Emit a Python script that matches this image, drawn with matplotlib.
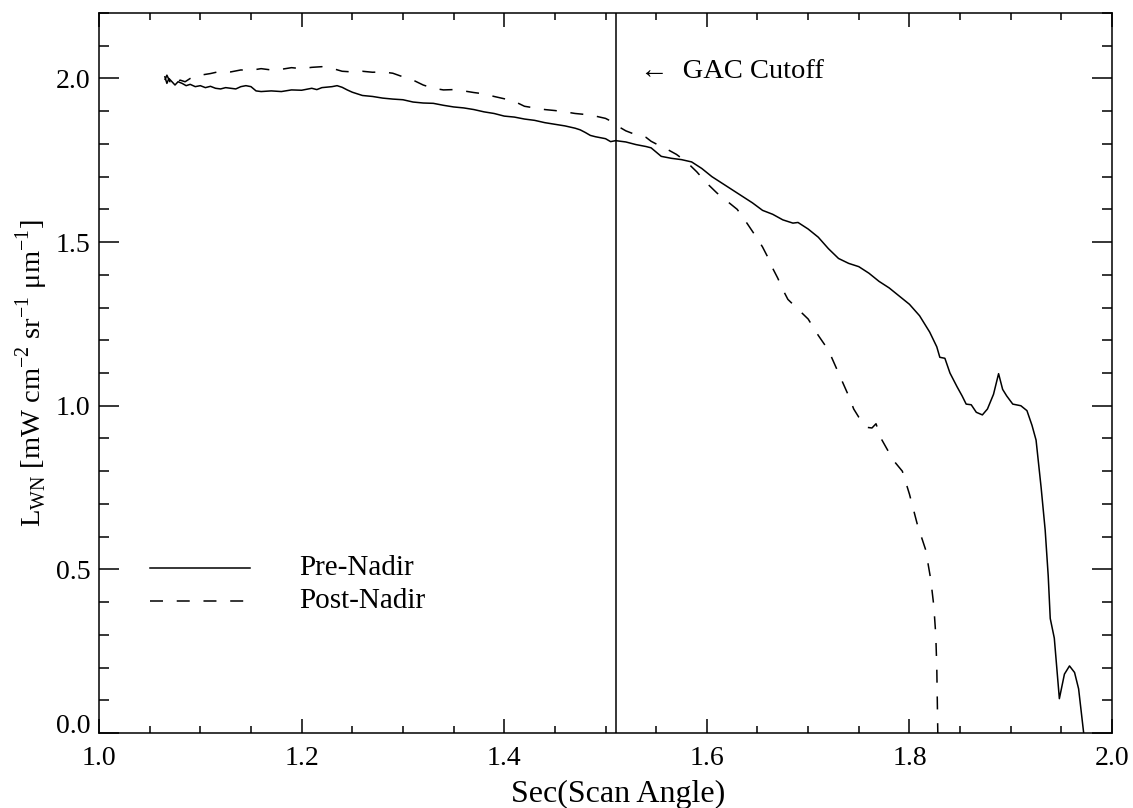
import numpy as np
import matplotlib
matplotlib.use("Agg")
from matplotlib import pyplot as plt

plt.rcParams["font.family"] = ["Liberation Serif", "DejaVu Serif"]
plt.rcParams["mathtext.fontset"] = "custom"
plt.rcParams["mathtext.rm"] = "Liberation Serif"

# ---------------- data ----------------
pre_x = [1.065, 1.067, 1.069, 1.072, 1.075, 1.078, 1.082, 1.086, 1.09, 1.095,
         1.10, 1.105, 1.11, 1.115, 1.12, 1.125, 1.13, 1.135, 1.14, 1.145,
         1.15, 1.155, 1.16, 1.17, 1.18, 1.19, 1.20, 1.21, 1.215, 1.22,
         1.23, 1.235, 1.24, 1.245, 1.25, 1.26, 1.27, 1.28, 1.29, 1.30,
         1.31, 1.32, 1.33, 1.34, 1.35, 1.36, 1.37, 1.38, 1.39, 1.40,
         1.41, 1.42, 1.43, 1.44, 1.45, 1.46, 1.47, 1.475, 1.48, 1.485,
         1.49, 1.50, 1.505, 1.51, 1.52, 1.53, 1.54, 1.545, 1.55, 1.555,
         1.565, 1.575, 1.585, 1.595, 1.605, 1.615, 1.625, 1.635, 1.645, 1.655,
         1.665, 1.675, 1.685, 1.69, 1.70, 1.71, 1.72, 1.73, 1.74, 1.75,
         1.76, 1.77, 1.78, 1.79, 1.80, 1.81, 1.82, 1.827, 1.83, 1.835,
         1.84, 1.847, 1.852, 1.856, 1.861, 1.866, 1.872, 1.877, 1.883, 1.888,
         1.892, 1.896, 1.902, 1.91, 1.916, 1.921, 1.925, 1.93, 1.934, 1.937,
         1.939, 1.943, 1.948, 1.953, 1.958, 1.963, 1.967, 1.972]
pre_y = [2.005, 1.985, 2.0, 1.99, 1.98, 1.99, 1.985, 1.978, 1.982, 1.975,
         1.978, 1.972, 1.976, 1.97, 1.968, 1.972, 1.97, 1.968, 1.975, 1.978,
         1.975, 1.962, 1.96, 1.962, 1.96, 1.965, 1.964, 1.97, 1.966, 1.972,
         1.975, 1.978, 1.973, 1.965, 1.958, 1.948, 1.945, 1.94, 1.937, 1.935,
         1.928, 1.925, 1.924, 1.918, 1.913, 1.91, 1.905, 1.898, 1.893, 1.885,
         1.882, 1.876, 1.872, 1.865, 1.86, 1.855, 1.848, 1.843, 1.835, 1.826,
         1.822, 1.816, 1.807, 1.81, 1.806, 1.798, 1.792, 1.788, 1.775, 1.762,
         1.756, 1.752, 1.745, 1.725, 1.70, 1.68, 1.66, 1.64, 1.62, 1.597,
         1.585, 1.568, 1.558, 1.56, 1.54, 1.515, 1.48, 1.45, 1.435, 1.425,
         1.405, 1.38, 1.36, 1.335, 1.31, 1.275, 1.225, 1.18, 1.148, 1.145,
         1.10, 1.058, 1.03, 1.005, 1.003, 0.98, 0.972, 0.99, 1.035, 1.098,
         1.05, 1.03, 1.005, 1.0, 0.985, 0.94, 0.895, 0.75, 0.62, 0.48,
         0.35, 0.29, 0.105, 0.18, 0.205, 0.185, 0.135, 0.0]

post_x = [1.065, 1.067, 1.07, 1.073, 1.076, 1.08, 1.085, 1.09, 1.095, 1.10,
          1.11, 1.12, 1.13, 1.14, 1.15, 1.16, 1.17, 1.18, 1.19, 1.20,
          1.21, 1.22, 1.23, 1.24, 1.25, 1.26, 1.27, 1.28, 1.29, 1.30,
          1.31, 1.32, 1.33, 1.34, 1.35, 1.36, 1.37, 1.38, 1.39, 1.40,
          1.41, 1.42, 1.43, 1.44, 1.45, 1.46, 1.47, 1.48, 1.49, 1.50,
          1.505, 1.51, 1.52, 1.53, 1.54, 1.545, 1.55, 1.56, 1.57, 1.58,
          1.59, 1.60, 1.61, 1.62, 1.63, 1.64, 1.65, 1.655, 1.66, 1.665,
          1.67, 1.675, 1.68, 1.69, 1.70, 1.71, 1.72, 1.73, 1.74, 1.745,
          1.75, 1.758, 1.763, 1.767, 1.772, 1.778, 1.785, 1.793, 1.80, 1.808,
          1.816, 1.821, 1.824, 1.826, 1.827, 1.828]
post_y = [1.995, 2.01, 1.99, 2.0, 1.985, 1.995, 1.99, 2.0, 2.008, 2.01,
          2.015, 2.022, 2.02, 2.026, 2.025, 2.03, 2.026, 2.028, 2.033, 2.03,
          2.034, 2.036, 2.031, 2.022, 2.02, 2.022, 2.019, 2.02, 2.016, 2.005,
          1.995, 1.98, 1.97, 1.965, 1.966, 1.962, 1.957, 1.953, 1.945, 1.938,
          1.93, 1.915, 1.91, 1.905, 1.902, 1.898, 1.893, 1.89, 1.885, 1.878,
          1.87, 1.858, 1.84, 1.828, 1.82, 1.808, 1.80, 1.785, 1.768, 1.745,
          1.715, 1.68, 1.65, 1.625, 1.60, 1.556, 1.51, 1.485, 1.455, 1.42,
          1.39, 1.355, 1.325, 1.295, 1.265, 1.215, 1.17, 1.10, 1.03, 0.99,
          0.965, 0.934, 0.932, 0.945, 0.90, 0.867, 0.83, 0.80, 0.73, 0.635,
          0.56, 0.47, 0.39, 0.30, 0.20, 0.0]

gac_cutoff = 1.51
series_names = ["Pre-Nadir", "Post-Nadir"]

# ---------------- plot ----------------
fig = plt.figure(figsize=(11.33, 8.08), dpi=100)
ax = fig.add_axes([0.0874, 0.0928, 0.8941, 0.8911])

lw = 1.1
ax.plot(pre_x, pre_y, color="black", lw=lw)
ln, = ax.plot(post_x, post_y, color="black", lw=lw)
ln.set_dashes((8.5, 9))
ax.axvline(gac_cutoff, color="black", lw=lw)

ax.text(1.534, 2.02, "\u2190  GAC Cutoff", fontsize=20.5, va="center", ha="left")

# hand-made legend, as in the original
ax.plot([1.0503, 1.149], [0.505, 0.505], color="black", lw=lw)
ld, = ax.plot([1.0503, 1.149], [0.403, 0.403], color="black", lw=lw)
ld.set_dashes((8.5, 9))
ax.text(1.1975, 0.505, series_names[0], fontsize=21, va="center", ha="left")
ax.text(1.1975, 0.403, series_names[1], fontsize=21, va="center", ha="left")

ax.set_xlim(1.0, 2.0)
ax.set_ylim(0.0, 2.2)
ax.set_xticks(np.arange(1.0, 2.01, 0.2))
ax.set_xticks(np.arange(1.0, 2.001, 0.05), minor=True)
ax.set_yticks(np.arange(0.0, 2.01, 0.5))
ax.set_yticks(np.arange(0.0, 2.201, 0.1), minor=True)
ax.set_xticklabels(["%.1f" % v for v in np.arange(1.0, 2.01, 0.2)])
ax.set_yticklabels(["%.1f" % v for v in np.arange(0.0, 2.01, 0.5)])

ax.tick_params(axis="both", which="both", direction="in", top=True, right=True,
               labelsize=20, width=1.1, color="black")
ax.tick_params(axis="x", which="major", length=10, pad=9)
ax.tick_params(axis="x", which="minor", length=5)
ax.tick_params(axis="y", which="major", length=14.5, pad=6)
ax.tick_params(axis="y", which="minor", length=7.2)
for s in ax.spines.values():
    s.set_linewidth(1.1)

# IDL nudges the lowest y label up off the axis
ax.get_yticklabels()[0].set_va("baseline")

ax.set_xlabel("Sec(Scan Angle)", fontsize=23, labelpad=4)
ax.xaxis.set_label_coords(0.5125, -0.065)
ax.set_ylabel("L$_{\\mathrm{WN}}$ [mW cm$^{\\mathrm{-2}}$ sr$^{\\mathrm{-1}}$ \u03bcm$^{\\mathrm{-1}}$]",
              fontsize=20.5, labelpad=4)

fig.savefig("out.png", dpi=100)
